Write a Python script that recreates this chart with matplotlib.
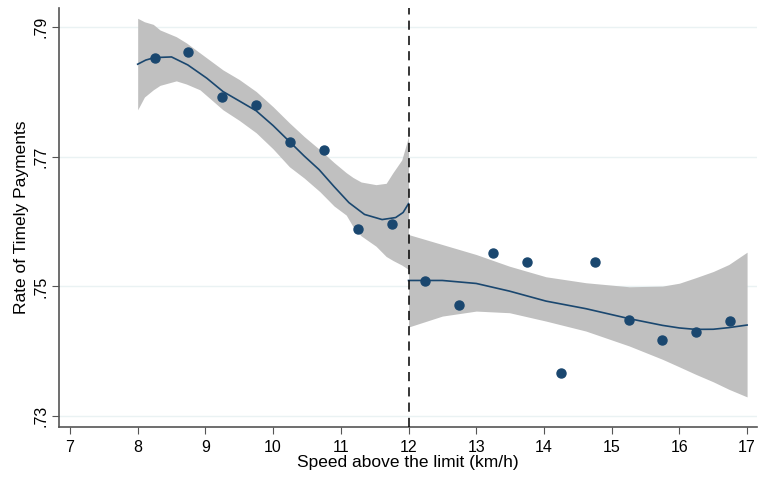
import numpy as np
import matplotlib.pyplot as plt
from matplotlib.ticker import FuncFormatter

plt.rcParams['font.family'] = ['Liberation Sans', 'DejaVu Sans']

# binned means
bin_x = [8.25, 8.75, 9.25, 9.75, 10.25, 10.75, 11.25, 11.75,
         12.25, 12.75, 13.25, 13.75, 14.25, 14.75, 15.25, 15.75, 16.25, 16.75]
bin_y = [.7852, .7862, .7792, .7780, .7723, .7711, .7589, .7597,
         .7509, .7471, .7551, .7537, .7366, .7537, .7449, .7418, .7429, .7446]

# local fit below the cutoff
left_x = [8.0, 8.12, 8.25, 8.5, 8.74, 9.02, 9.26, 9.5, 9.75, 10.0, 10.24, 10.46, 10.68, 10.9,
          11.12, 11.35, 11.61, 11.81, 11.92, 12.0]
left_fit = [.78426, .7849, .78528, .78538, .78415, .78211, .78005, .7786, .77708, .7748, .77235, .7701,
            .7680, .7654, .76292, .7611, .76031, .76062, .7614, .76277]
left_bx = [8.0, 8.1, 8.23, 8.33, 8.57, 8.72, 8.92, 9.26, 9.5, 9.75, 10.0, 10.24, 10.46, 10.69, 10.9,
           11.08, 11.18, 11.3, 11.52, 11.67, 11.77, 11.9, 12.0]
left_hi = [.79134, .7908, .7904, .78954, .7885, .78754, .7860, .78338, .7819, .78005, .7777, .77523,
           .7731, .77108, .7691, .76754, .7668, .7661, .76569, .7659, .76754, .7695, .77308]
left_lo = [.77723, .7792, .78031, .7810, .78169, .7812, .78031, .77723, .7756, .77369, .7712, .76846,
           .7667, .76462, .7624, .7610, .75923, .7578, .7562, .75462, .7540, .7533, .75262]

# local fit above the cutoff
right_x = [12.0, 12.5, 13.0, 13.49, 14.03, 14.62, 15.26, 15.75, 16.0, 16.24, 16.5, 16.73, 17.0]
right_fit = [.75092, .75092, .75046, .74928, .74774, .74657, .74503, .744, .7436, .74338, .7434, .74365, .74405]
right_hi = [.758, .75646, .75492, .75312, .75149, .75057, .74995, .75005, .7505, .75134, .7523, .75338, .75528]
right_lo = [.74374, .74543, .7462, .74595, .74466, .74312, .74082, .73877, .7376, .73646, .7353, .73415, .73297]

navy = '#1a476f'
band = '#c0c0c0'

fig = plt.figure(figsize=(7.58, 4.80), dpi=100)
ax = fig.add_axes([0.078, 0.110, 0.921, 0.873])

ax.fill_between(left_bx, left_lo, left_hi, color=band, lw=0, zorder=2)
ax.fill_between(right_x, right_lo, right_hi, color=band, lw=0, zorder=2)
ax.plot(left_x, left_fit, color=navy, lw=1.2, zorder=3)
ax.plot(right_x, right_fit, color=navy, lw=1.2, zorder=3)
ax.plot(bin_x, bin_y, 'o', color=navy, ms=6.5, zorder=4)
ax.axvline(12, color='black', ls=(0, (6, 4)), lw=1.1, zorder=5)

ax.set_xlim(6.84, 17.15)
ax.set_ylim(.7283, .7929)
ax.set_xticks(range(7, 18))
ax.set_yticks([.73, .75, .77, .79])
ax.yaxis.set_major_formatter(FuncFormatter(lambda v, p: ('%.2f' % v).lstrip('0')))
ax.grid(axis='y', color='#eaf2f3', lw=1, zorder=0)
ax.set_axisbelow(True)

for s in ['top', 'right']:
    ax.spines[s].set_visible(False)
for s in ['left', 'bottom']:
    ax.spines[s].set_color('#555555')
    ax.spines[s].set_linewidth(1.2)
ax.tick_params(colors='#555555', labelcolor='black', length=5, labelsize=11.5, pad=4)
ax.tick_params(axis='y', labelrotation=90, pad=3)
for lab in ax.get_yticklabels():
    lab.set_va('center')

ax.set_xlabel('Speed above the limit (km/h)', fontsize=12.5, labelpad=0)
ax.set_ylabel('Rate of Timely Payments', fontsize=12.5, labelpad=3)

fig.savefig('out.png', dpi=100)
